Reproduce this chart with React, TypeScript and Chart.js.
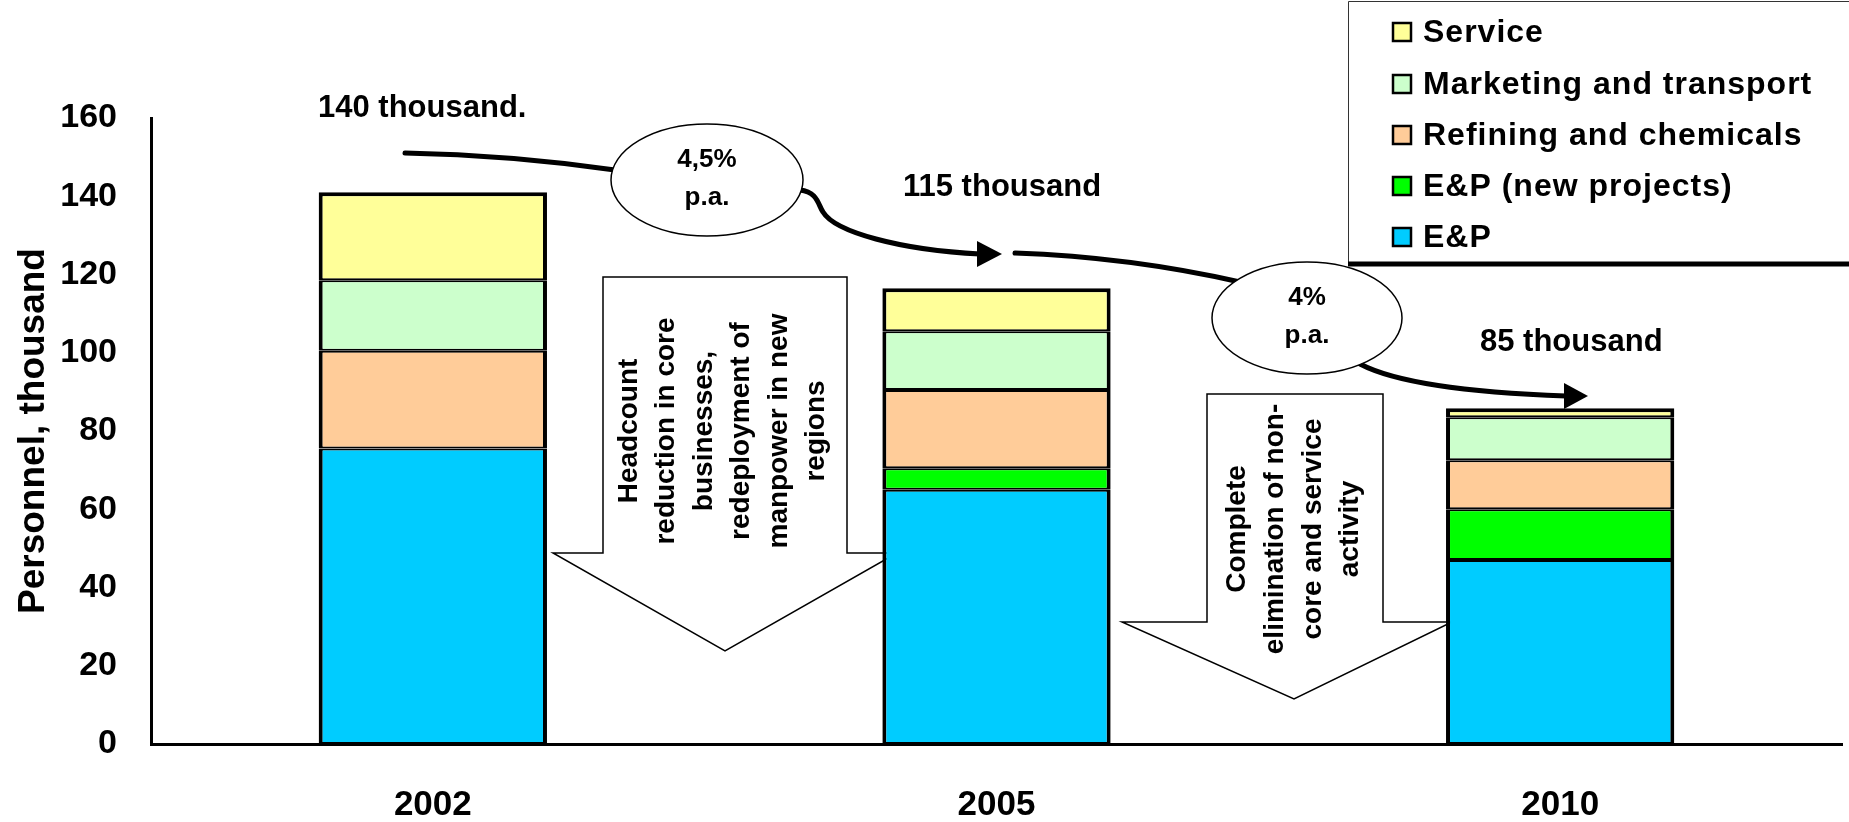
import React, { useEffect, useRef } from "react";
import { Chart, registerables } from "chart.js";

Chart.register(...registerables);

// ---------- data ----------
const years = ["2002", "2005", "2010"];
const epValues = [75.5, 65, 47];
const epNewValues = [0, 5.5, 13];
const refiningValues = [25, 20, 12.5];
const marketingValues = [18, 15, 11];
const serviceValues = [22.5, 11, 2.3];
const yTickValues = [0, 20, 40, 60, 80, 100, 120, 140, 160];

const seriesLabels = [
  "E&P",
  "E&P (new projects)",
  "Refining and chemicals",
  "Marketing and transport",
  "Service",
];
const seriesColors = ["#00CCFF", "#00FF00", "#FFCC99", "#CCFFCC", "#FFFF99"];

const totalLabels = ["140 thousand.", "115 thousand", "85 thousand"];
const rateLabels = [
  ["4,5%", "p.a."],
  ["4%", "p.a."],
];
const arrowTexts = [
  ["Headcount", "reduction in core", "businesses,", "redeployment of", "manpower in new", "regions"],
  ["Complete", "elimination of non-", "core and service", "activity"],
];
const yTitle = "Personnel, thousand";

const FONT = '"Liberation Sans", Arial, sans-serif';

function arrowHead(ctx: CanvasRenderingContext2D, tipX: number, tipY: number, len: number, half: number) {
  ctx.beginPath();
  ctx.moveTo(tipX, tipY);
  ctx.lineTo(tipX - len, tipY - half);
  ctx.lineTo(tipX - len, tipY + half);
  ctx.closePath();
  ctx.fillStyle = "#000";
  ctx.fill();
}

function ellipseLabel(ctx: CanvasRenderingContext2D, cx: number, cy: number, rx: number, ry: number, lines: string[]) {
  ctx.beginPath();
  ctx.ellipse(cx, cy, rx, ry, 0, 0, Math.PI * 2);
  ctx.fillStyle = "#fff";
  ctx.fill();
  ctx.lineWidth = 1.5;
  ctx.strokeStyle = "#000";
  ctx.stroke();
  ctx.fillStyle = "#000";
  ctx.font = `bold 26px ${FONT}`;
  ctx.textAlign = "center";
  ctx.textBaseline = "middle";
  ctx.fillText(lines[0], cx, cy - 20);
  ctx.fillText(lines[1], cx, cy + 18);
}

function bigArrow(
  ctx: CanvasRenderingContext2D,
  rl: number, rr: number, top: number, wingY: number,
  wl: number, wr: number, tipX: number, tipY: number,
  lines: string[], cx: number, cy: number, lh: number
) {
  ctx.beginPath();
  ctx.moveTo(rl, top);
  ctx.lineTo(rr, top);
  ctx.lineTo(rr, wingY);
  ctx.lineTo(wr, wingY);
  ctx.lineTo(tipX, tipY);
  ctx.lineTo(wl, wingY);
  ctx.lineTo(rl, wingY);
  ctx.closePath();
  ctx.fillStyle = "#fff";
  ctx.fill();
  ctx.lineWidth = 1.5;
  ctx.strokeStyle = "#000";
  ctx.stroke();

  ctx.save();
  ctx.translate(cx, cy);
  ctx.rotate(-Math.PI / 2);
  ctx.fillStyle = "#000";
  ctx.font = `bold 28px ${FONT}`;
  ctx.textAlign = "center";
  ctx.textBaseline = "middle";
  const n = lines.length;
  lines.forEach((t, i) => {
    ctx.fillText(t, 0, (i - (n - 1) / 2) * lh);
  });
  ctx.restore();
}

const annotationPlugin = {
  id: "annotations",
  beforeDatasetsDraw(chart: any) {
    const ctx: CanvasRenderingContext2D = chart.ctx;
    ctx.save();
    bigArrow(ctx, 603, 847, 277, 553, 553, 897, 725, 651, arrowTexts[0], 723, 431, 37.5);
    bigArrow(ctx, 1207, 1383, 394, 622, 1122, 1452, 1294, 699, arrowTexts[1], 1294, 529, 37.7);
    ctx.restore();
  },
  afterDraw(chart: any) {
    const ctx: CanvasRenderingContext2D = chart.ctx;
    ctx.save();

    // total labels
    ctx.fillStyle = "#000";
    ctx.font = `bold 31px ${FONT}`;
    ctx.textAlign = "left";
    ctx.textBaseline = "middle";
    ctx.fillText(totalLabels[0], 318, 108);
    ctx.fillText(totalLabels[1], 903, 187);
    ctx.fillText(totalLabels[2], 1480, 342);

    // trend lines
    ctx.strokeStyle = "#000";
    ctx.lineWidth = 5;
    ctx.lineCap = "round";
    ctx.beginPath();
    ctx.moveTo(405, 153);
    ctx.quadraticCurveTo(510, 155, 615, 170);
    ctx.stroke();

    ctx.beginPath();
    ctx.moveTo(800, 190);
    ctx.bezierCurveTo(818, 192, 818, 205, 823, 212);
    ctx.bezierCurveTo(835, 232, 900, 250, 980, 254);
    ctx.stroke();
    arrowHead(ctx, 1002, 254, 25, 13);

    ctx.beginPath();
    ctx.moveTo(1015, 253);
    ctx.quadraticCurveTo(1130, 257, 1240, 282);
    ctx.stroke();

    ctx.beginPath();
    ctx.moveTo(1360, 364);
    ctx.bezierCurveTo(1400, 385, 1480, 393, 1566, 396);
    ctx.stroke();
    arrowHead(ctx, 1588, 396, 24, 13);

    ellipseLabel(ctx, 707, 180, 96, 56, rateLabels[0]);
    ellipseLabel(ctx, 1307, 318, 95, 56, rateLabels[1]);

    // legend box
    const lx = 1348;
    const by = 264;
    ctx.fillStyle = "#fff";
    ctx.fillRect(lx, 0, 1849 - lx, by);
    ctx.lineCap = "butt";
    ctx.lineWidth = 1;
    ctx.strokeStyle = "#333";
    ctx.beginPath();
    ctx.moveTo(lx + 0.5, by);
    ctx.lineTo(lx + 0.5, 1.5);
    ctx.lineTo(1849, 1.5);
    ctx.stroke();
    ctx.lineWidth = 5;
    ctx.strokeStyle = "#000";
    ctx.beginPath();
    ctx.moveTo(lx, by);
    ctx.lineTo(1849, by);
    ctx.stroke();

    const rows = [32, 84, 135, 186, 237];
    const ds = chart.data.datasets.slice().reverse();
    ctx.font = `bold 32px ${FONT}`;
    (ctx as any).letterSpacing = "1px";
    ctx.textAlign = "left";
    ctx.textBaseline = "middle";
    ds.forEach((d: any, i: number) => {
      const y = rows[i];
      ctx.fillStyle = d.backgroundColor;
      ctx.fillRect(1393, y - 9, 18, 18);
      ctx.lineWidth = 2.5;
      ctx.strokeStyle = "#000";
      ctx.strokeRect(1393, y - 9, 18, 18);
      ctx.fillStyle = "#000";
      ctx.fillText(d.label, 1423, y + 1);
    });
    (ctx as any).letterSpacing = "0px";

    ctx.restore();
  },
};

export default function App() {
  const canvasRef = useRef<HTMLCanvasElement | null>(null);

  useEffect(() => {
    document.body.style.margin = "0";
    document.body.style.overflow = "hidden";
    const canvas = canvasRef.current;
    if (!canvas) return;
    const values = [epValues, epNewValues, refiningValues, marketingValues, serviceValues];
    const last = values.length - 1;
    const chart = new Chart(canvas, {
      type: "bar",
      data: {
        labels: years,
        datasets: values.map((v, i) => ({
          label: seriesLabels[i],
          data: v,
          backgroundColor: seriesColors[i],
          borderColor: "#000",
          borderWidth: { left: 4, right: 4, top: i === last ? 4 : 2, bottom: 2 },
          borderSkipped: false,
          categoryPercentage: 1,
          barPercentage: 0.405,
        })),
      },
      options: {
        animation: false,
        responsive: true,
        maintainAspectRatio: false,
        layout: { padding: { top: 118, right: 7, left: 0, bottom: 0 } },
        plugins: {
          legend: { display: false },
          tooltip: { enabled: false },
          title: { display: false },
        },
        scales: {
          x: {
            stacked: true,
            grid: { display: false, drawTicks: false },
            border: { display: true, color: "#000", width: 3 },
            ticks: {
              color: "#000",
              font: { family: FONT, size: 35, weight: "bold" },
              padding: 40,
            },
            afterFit: (scale: any) => {
              scale.height = 78;
            },
          },
          y: {
            stacked: true,
            min: 0,
            max: 160,
            afterBuildTicks: (scale: any) => {
              scale.ticks = yTickValues.map((v) => ({ value: v }));
            },
            grid: { display: false, drawTicks: false },
            border: { display: true, color: "#000", width: 3 },
            ticks: {
              color: "#000",
              font: { family: FONT, size: 34, weight: "bold" },
              padding: 34,
            },
            title: {
              display: true,
              text: yTitle,
              color: "#000",
              font: { family: FONT, size: 37, weight: "bold" },
              padding: { top: 12, bottom: 0 },
            },
            afterFit: (scale: any) => {
              scale.width = 151;
            },
          },
        },
      },
      plugins: [annotationPlugin],
    });
    return () => chart.destroy();
  }, []);

  return (
    <div style={{ position: "relative", width: "1849px", height: "822px" }}>
      <canvas ref={canvasRef} />
    </div>
  );
}
